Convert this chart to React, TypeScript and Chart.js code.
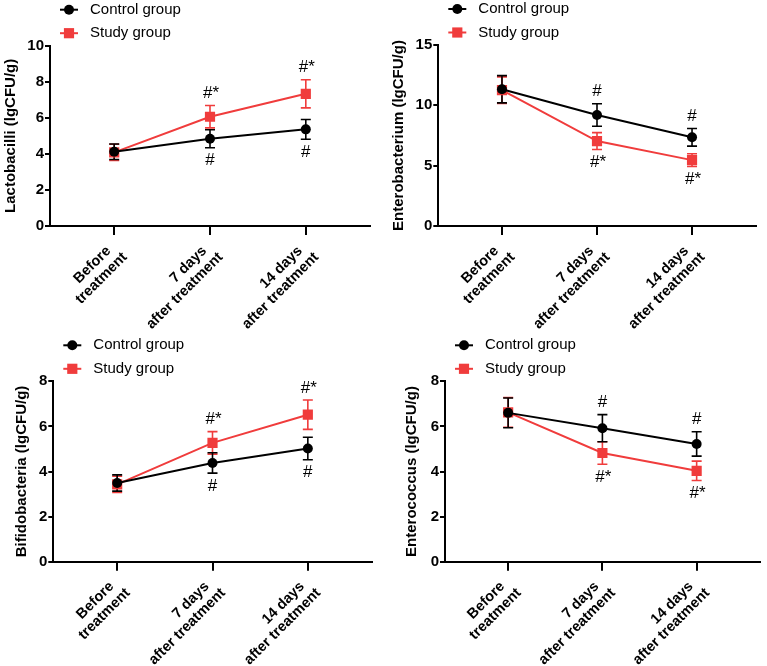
import React, { useEffect, useRef } from 'react';
import { Chart, registerables } from 'chart.js';
Chart.register(...registerables);

const FONT = '"Liberation Sans", Arial, Helvetica, sans-serif';
const RED = '#f03c3c';

// ---- data ----
const categories: string[][] = [
  ['Before', 'treatment'],
  ['7 days', 'after treatment'],
  ['14 days', 'after treatment'],
];
const seriesNames = ['Control group', 'Study group'];

const lactoControl = [4.12, 4.84, 5.36];
const lactoControlSD = [0.43, 0.5, 0.55];
const lactoStudy = [4.08, 6.06, 7.33];
const lactoStudySD = [0.45, 0.62, 0.78];

const enteroBactControl = [11.33, 9.2, 7.35];
const enteroBactControlSD = [1.13, 0.93, 0.73];
const enteroBactStudy = [11.26, 7.04, 5.46];
const enteroBactStudySD = [1.1, 0.7, 0.53];

const bifidoControl = [3.49, 4.38, 5.02];
const bifidoControlSD = [0.36, 0.45, 0.5];
const bifidoStudy = [3.43, 5.27, 6.52];
const bifidoStudySD = [0.36, 0.5, 0.65];

const enteroCocControl = [6.6, 5.92, 5.22];
const enteroCocControlSD = [0.66, 0.6, 0.54];
const enteroCocStudy = [6.62, 4.82, 4.03];
const enteroCocStudySD = [0.66, 0.5, 0.43];

const controlMarks = ['', '#', '#'];
const studyMarks = ['', '#*', '#*'];

const yTitles = [
  'Lactobacilli (lgCFU/g)',
  'Enterobacterium (lgCFU/g)',
  'Bifidobacteria (lgCFU/g)',
  'Enterococcus (lgCFU/g)',
];
const yMax = [10, 15, 8, 8];
const yStep = [2, 5, 2, 2];

type PanelData = {
  title: string;
  max: number;
  step: number;
  control: number[];
  controlSD: number[];
  study: number[];
  studySD: number[];
  controlSide: 'above' | 'below';
};

const panelsData: PanelData[] = [
  { title: yTitles[0], max: yMax[0], step: yStep[0], control: lactoControl, controlSD: lactoControlSD, study: lactoStudy, studySD: lactoStudySD, controlSide: 'below' },
  { title: yTitles[1], max: yMax[1], step: yStep[1], control: enteroBactControl, controlSD: enteroBactControlSD, study: enteroBactStudy, studySD: enteroBactStudySD, controlSide: 'above' },
  { title: yTitles[2], max: yMax[2], step: yStep[2], control: bifidoControl, controlSD: bifidoControlSD, study: bifidoStudy, studySD: bifidoStudySD, controlSide: 'below' },
  { title: yTitles[3], max: yMax[3], step: yStep[3], control: enteroCocControl, controlSD: enteroCocControlSD, study: enteroCocStudy, studySD: enteroCocStudySD, controlSide: 'above' },
];

// ---- layout ----
type Layout = { left: number; top: number; w: number; h: number; padLeft: number; yWidth: number; padTop: number; xHeight: number; padRight: number };
const layouts: Layout[] = [
  { left: 0, top: 0, w: 384, h: 333, padLeft: 0, yWidth: 50, padTop: 45.7, xHeight: 107, padRight: 14 },
  { left: 384, top: 0, w: 383, h: 333, padLeft: 4, yWidth: 50.3, padTop: 45, xHeight: 107, padRight: 11.3 },
  { left: 0, top: 333, w: 384, h: 333, padLeft: 10.7, yWidth: 42.6, padTop: 48.3, xHeight: 104.3, padRight: 12.3 },
  { left: 384, top: 333, w: 383, h: 333, padLeft: 17.3, yWidth: 43.7, padTop: 48.3, xHeight: 104.3, padRight: 3 },
];

const CIRCLE_R = 5;
const RECT_R = 7.2;

function drawMarker(ctx: CanvasRenderingContext2D, kind: number, x: number, y: number) {
  if (kind === 0) {
    ctx.fillStyle = '#000';
    ctx.beginPath();
    ctx.arc(x, y, CIRCLE_R, 0, Math.PI * 2);
    ctx.fill();
  } else {
    const s = RECT_R * Math.SQRT1_2;
    ctx.fillStyle = RED;
    ctx.fillRect(x - s, y - s, 2 * s, 2 * s);
  }
}

function Panel({ data, layout }: { data: PanelData; layout: Layout }) {
  const ref = useRef<HTMLCanvasElement>(null);
  useEffect(() => {
    const canvas = ref.current!;
    const means = [data.control, data.study];
    const sds = [data.controlSD, data.studySD];
    const marks = [controlMarks, studyMarks];
    const sides = [data.controlSide, data.controlSide === 'above' ? 'below' : 'above'];

    const errorBars = {
      id: 'errorBars',
      beforeDatasetsDraw(chart: any) {
        const { ctx, scales } = chart;
        const xs = scales.x, ys = scales.y;
        ctx.save();
        for (let s = 1; s >= 0; s--) {
          ctx.strokeStyle = s === 0 ? '#000' : RED;
          ctx.lineWidth = 1.6;
          means[s].forEach((m, i) => {
            const px = xs.getPixelForValue(i);
            const top = ys.getPixelForValue(m + sds[s][i]);
            const bot = ys.getPixelForValue(m - sds[s][i]);
            ctx.beginPath();
            ctx.moveTo(px, top);
            ctx.lineTo(px, bot);
            ctx.moveTo(px - 5, top);
            ctx.lineTo(px + 5, top);
            ctx.moveTo(px - 5, bot);
            ctx.lineTo(px + 5, bot);
            ctx.stroke();
          });
        }
        ctx.restore();
      },
    };

    const marksPlugin = {
      id: 'marks',
      afterDatasetsDraw(chart: any) {
        const { ctx, scales } = chart;
        const xs = scales.x, ys = scales.y;
        ctx.save();
        ctx.font = `17px ${FONT}`;
        ctx.fillStyle = '#000';
        ctx.textAlign = 'center';
        ctx.textBaseline = 'middle';
        for (let s = 0; s < 2; s++) {
          means[s].forEach((m, i) => {
            const t = marks[s][i];
            if (!t) return;
            const px = xs.getPixelForValue(i) + (t.length > 1 ? 1 : 0);
            const py = sides[s] === 'above'
              ? ys.getPixelForValue(m + sds[s][i]) - 12
              : ys.getPixelForValue(m - sds[s][i]) + 13;
            ctx.fillText(t, px, py);
          });
        }
        ctx.restore();
      },
    };

    const legendAndLabels = {
      id: 'legendAndLabels',
      afterDraw(chart: any) {
        const { ctx, chartArea, scales } = chart;
        ctx.save();
        // legend
        const rows = [chartArea.top - 36, chartArea.top - 12.5];
        for (let s = 0; s < 2; s++) {
          const y = rows[s];
          const x0 = chartArea.left + 10;
          ctx.strokeStyle = s === 0 ? '#000' : RED;
          ctx.lineWidth = 2;
          ctx.beginPath();
          ctx.moveTo(x0, y);
          ctx.lineTo(x0 + 18, y);
          ctx.stroke();
          drawMarker(ctx, s, x0 + 9, y);
          ctx.fillStyle = '#000';
          ctx.font = `15px ${FONT}`;
          ctx.textAlign = 'left';
          ctx.textBaseline = 'middle';
          ctx.fillText(seriesNames[s], chartArea.left + 40, y);
        }
        // rotated x labels
        ctx.font = `bold 14.5px ${FONT}`;
        ctx.fillStyle = '#000';
        ctx.textAlign = 'right';
        ctx.textBaseline = 'middle';
        categories.forEach((lines, i) => {
          const px = scales.x.getPixelForValue(i);
          ctx.save();
          ctx.translate(px, chartArea.bottom);
          ctx.rotate(-Math.PI / 4);
          lines.forEach((ln, j) => {
            ctx.fillText(ln, -20 + j * 7, 12 + j * 16);
          });
          ctx.restore();
        });
        ctx.restore();
      },
    };

    const chart = new Chart(canvas, {
      type: 'line',
      data: {
        datasets: [
          {
            label: seriesNames[0],
            data: data.control.map((v, i) => ({ x: i, y: v })),
            borderColor: '#000',
            backgroundColor: '#000',
            borderWidth: 2,
            pointStyle: 'circle',
            pointRadius: CIRCLE_R,
            pointBorderWidth: 0,
            pointBackgroundColor: '#000',
          },
          {
            label: seriesNames[1],
            data: data.study.map((v, i) => ({ x: i, y: v })),
            borderColor: RED,
            backgroundColor: RED,
            borderWidth: 2,
            pointStyle: 'rect',
            pointRadius: RECT_R,
            pointBorderWidth: 0,
            pointBackgroundColor: RED,
          },
        ],
      },
      options: {
        responsive: false,
        animation: false,
        devicePixelRatio: 1,
        events: [],
        layout: { padding: { left: layout.padLeft, top: layout.padTop, right: layout.padRight, bottom: 0 } },
        plugins: { legend: { display: false }, tooltip: { enabled: false } },
        scales: {
          x: {
            type: 'linear',
            min: -0.67,
            max: 2.67,
            afterBuildTicks: (scale: any) => {
              scale.ticks = categories.map((_, i) => ({ value: i }));
            },
            afterFit: (scale: any) => {
              scale.height = layout.xHeight;
            },
            ticks: { display: false },
            grid: { drawOnChartArea: false, drawTicks: true, tickLength: 9, lineWidth: 2, color: '#000' },
            border: { display: true, width: 2, color: '#000' },
          },
          y: {
            type: 'linear',
            min: 0,
            max: data.max,
            afterFit: (scale: any) => {
              scale.width = layout.yWidth;
            },
            ticks: { stepSize: data.step, color: '#000', font: { family: FONT, size: 15, weight: 'bold' }, padding: 1 },
            grid: { drawOnChartArea: false, drawTicks: true, tickLength: 5, lineWidth: 2, color: '#000' },
            border: { display: true, width: 2, color: '#000' },
            title: { display: true, text: data.title, color: '#000', font: { family: FONT, size: 15, weight: 'bold' }, padding: { top: 2, bottom: 0 } },
          },
        },
      },
      plugins: [errorBars, marksPlugin, legendAndLabels],
    } as any);
    return () => chart.destroy();
  }, [data, layout]);
  return (
    <canvas
      ref={ref}
      width={layout.w}
      height={layout.h}
      style={{ position: 'absolute', left: layout.left, top: layout.top, width: layout.w, height: layout.h }}
    />
  );
}

export default function App() {
  return (
    <div style={{ position: 'absolute', left: 0, top: 0, width: 767, height: 666, background: '#fff' }}>
      {panelsData.map((d, i) => (
        <Panel key={i} data={d} layout={layouts[i]} />
      ))}
    </div>
  );
}
